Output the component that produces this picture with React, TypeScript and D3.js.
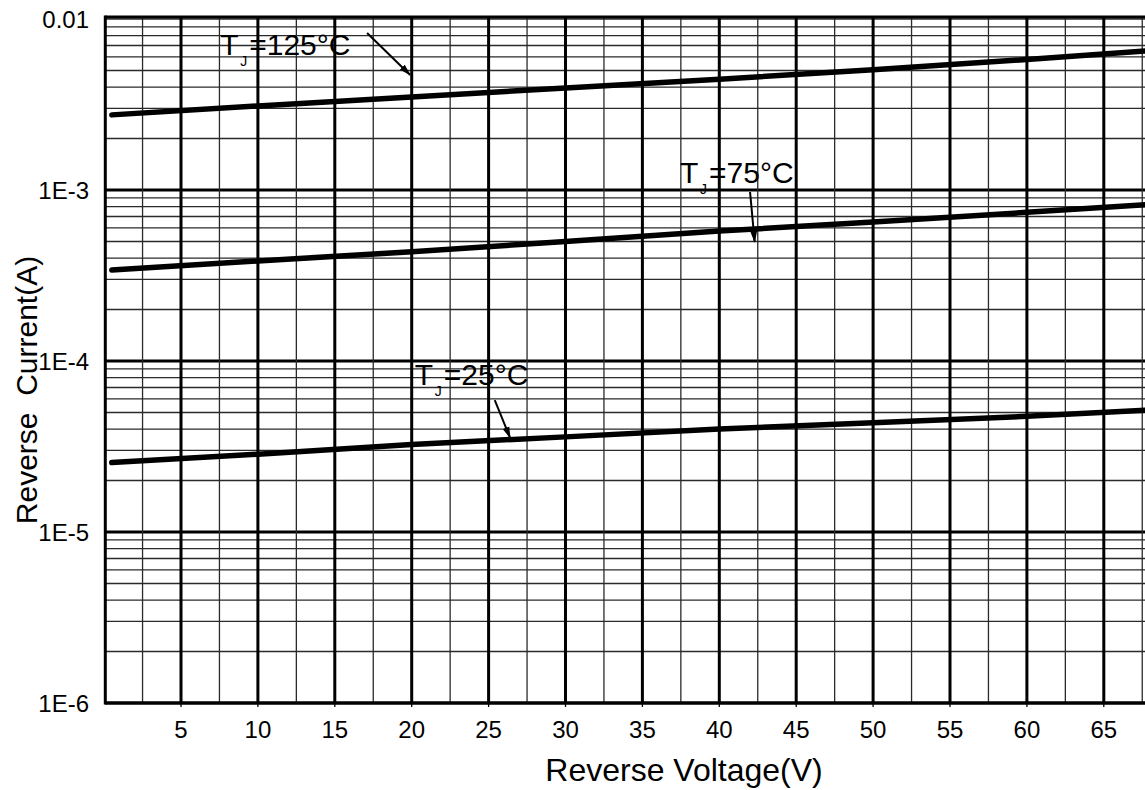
// @ts-nocheck
import React from "react";
import * as d3 from "d3";

// Reverse voltage (V) sample points
const volts = [0.5, 10, 20, 30, 40, 50, 60, 67.7];

// Reverse current (A) at each voltage, per junction temperature
const current125 = [2.75e-3, 3.1e-3, 3.5e-3, 3.95e-3, 4.45e-3, 5.05e-3, 5.8e-3, 6.5e-3];
const current75 = [3.4e-4, 3.85e-4, 4.35e-4, 5.0e-4, 5.75e-4, 6.5e-4, 7.4e-4, 8.2e-4];
const current25 = [2.55e-5, 2.85e-5, 3.25e-5, 3.6e-5, 4.0e-5, 4.35e-5, 4.75e-5, 5.15e-5];

const seriesNames = ["125", "75", "25"];

// axis ticks
const xTickValues = [5, 10, 15, 20, 25, 30, 35, 40, 45, 50, 55, 60, 65];
const yTickValues = [1e-2, 1e-3, 1e-4, 1e-5, 1e-6];
const yTickLabels = ["0.01", "1E-3", "1E-4", "1E-5", "1E-6"];

// annotation anchors in data units: [label V, label I, arrow from V, I, arrow to V, I]
const labelAt = [
  [7.55, 6.16e-3, 17.1, 8.28e-3, 19.9, 4.71e-3],
  [37.45, 1.1e-3, 42.0, 9.73e-4, 42.3, 4.97e-4],
  [20.2, 7.24e-5, 25.4, 5.91e-5, 26.4, 3.55e-5],
];

const W = 1145;
const H = 790;
const FONT = "'Liberation Sans', Arial, sans-serif";

export default function App() {
  const x = d3.scaleLinear().domain([0, 70]).range([104.1, 104.1 + 70 * 15.38]);
  const y = d3.scaleLog().domain([1e-6, 1e-2]).range([703, 19]);

  const left = x(0) + 1.2;
  const right = W + 10;
  const top = 17;
  const bottom = y(1e-6);

  // grid positions
  const vGrid = d3.range(2.5, 70.1, 2.5);
  const hGrid = [];
  [1e-6, 1e-5, 1e-4, 1e-3].forEach((dec) => {
    for (let k = 1; k <= 9; k++) hGrid.push(dec * k);
  });
  hGrid.push(1e-2);

  const line = d3
    .line()
    .x((d) => x(d[0]))
    .y((d) => y(d[1]));

  const curves = [current125, current75, current25].map((vals) =>
    vals.map((v, i) => [volts[i], v])
  );

  const isMajorV = (v) => Math.abs(v / 5 - Math.round(v / 5)) < 1e-6;
  const isDecade = (v) => Math.abs(Math.log10(v) - Math.round(Math.log10(v))) < 1e-6;

  return (
    <svg
      width={W}
      height={H}
      viewBox={`0 0 ${W} ${H}`}
      style={{ position: "absolute", left: 0, top: 0, background: "#fff", display: "block" }}
    >
      <defs>
        <marker
          id="arrow"
          viewBox="0 0 12 8"
          refX="11"
          refY="4"
          markerWidth="12"
          markerHeight="8"
          markerUnits="userSpaceOnUse"
          orient="auto"
        >
          <path d="M0,0.5 L12,4 L0,7.5 z" fill="#000" />
        </marker>
        <clipPath id="plot">
          <rect x={left} y={top} width={right - left} height={bottom - top} />
        </clipPath>
      </defs>

      {/* horizontal grid */}
      <g>
        {hGrid.map((v, i) => {
          const dec = isDecade(v) && v !== 1e-2;
          return (
            <line
              key={"h" + i}
              x1={left}
              x2={right}
              y1={y(v)}
              y2={y(v)}
              stroke={dec ? "#000" : "#2a2a2a"}
              strokeWidth={dec ? 3 : 1.3}
            />
          );
        })}
      </g>

      {/* vertical grid */}
      <g>
        {vGrid.map((v, i) => (
          <line
            key={"v" + i}
            x1={x(v)}
            x2={x(v)}
            y1={top}
            y2={bottom}
            stroke={isMajorV(v) ? "#000" : "#2a2a2a"}
            strokeWidth={isMajorV(v) ? 3 : 1.3}
          />
        ))}
      </g>

      {/* frame */}
      <line x1={left} x2={left} y1={top - 1.5} y2={bottom + 1.5} stroke="#000" strokeWidth={3} />
      <line x1={left} x2={right} y1={top} y2={top} stroke="#000" strokeWidth={3} />
      <line x1={left} x2={right} y1={bottom} y2={bottom} stroke="#000" strokeWidth={3} />

      {/* bottom tick marks */}
      {xTickValues.map((v) => (
        <line key={"t" + v} x1={x(v)} x2={x(v)} y1={bottom} y2={bottom + 4} stroke="#000" strokeWidth={1.3} />
      ))}

      {/* curves */}
      <g clipPath="url(#plot)">
        {curves.map((c, i) => (
          <path
            key={seriesNames[i]}
            d={line(c)}
            fill="none"
            stroke="#000"
            strokeWidth={5.5}
            strokeLinecap="round"
          />
        ))}
      </g>

      {/* y tick labels */}
      <g fontFamily={FONT} fontSize={24} fill="#000">
        {yTickValues.map((v, i) => (
          <text key={"yl" + i} x={89} y={y(v)} textAnchor="end" dominantBaseline="central">
            {yTickLabels[i]}
          </text>
        ))}
      </g>

      {/* x tick labels */}
      <g fontFamily={FONT} fontSize={24} fill="#000">
        {xTickValues.map((v) => (
          <text key={"xl" + v} x={x(v)} y={738} textAnchor="middle">
            {v}
          </text>
        ))}
      </g>

      {/* annotations */}
      <g fontFamily={FONT} fill="#000">
        {labelAt.map((a, i) => {
          const lx = x(a[0]);
          const ly = y(a[1]);
          return (
            <g key={"a" + i}>
              <text x={lx} y={ly} fontSize={30}>T</text>
              <text x={lx + 20} y={ly + 11} fontSize={14}>J</text>
              <text x={lx + 29} y={ly} fontSize={30}>
                {"=" + seriesNames[i] + "\u00b0C"}
              </text>
              <line
                x1={x(a[2])}
                y1={y(a[3])}
                x2={x(a[4])}
                y2={y(a[5])}
                stroke="#000"
                strokeWidth={2}
                markerEnd="url(#arrow)"
              />
            </g>
          );
        })}
      </g>

      {/* axis titles */}
      <text x={684} y={781} textAnchor="middle" fontFamily={FONT} fontSize={32} fill="#000">
        Reverse Voltage(V)
      </text>
      <text
        transform={`translate(37,390) rotate(-90)`}
        textAnchor="middle"
        fontFamily={FONT}
        fontSize={30}
        fill="#000"
        style={{ whiteSpace: "pre" }}
      >
        {"Reverse  Current(A)"}
      </text>
    </svg>
  );
}
